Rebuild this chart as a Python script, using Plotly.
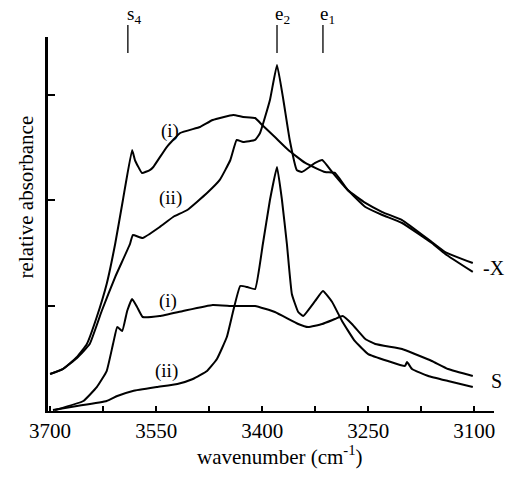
import plotly.graph_objects as go

# Upper pair (-X)
x_top_i = [3700, 3682, 3662, 3648, 3634, 3620, 3608, 3597, 3584, 3580, 3570, 3559, 3554, 3535, 3516,
           3488, 3470, 3441, 3427, 3410, 3400, 3382, 3363, 3339, 3311, 3297, 3279, 3254, 3230, 3202,
           3160, 3141, 3102]
y_top_i = [0.351, 0.398, 0.512, 0.635, 0.891, 1.204, 1.583, 2.000, 2.474, 2.379, 2.256, 2.284, 2.313,
           2.502, 2.635, 2.692, 2.758, 2.806, 2.787, 2.777, 2.711, 2.597, 2.474, 2.351, 2.265, 2.256,
           2.095, 1.972, 1.886, 1.810, 1.602, 1.507, 1.403]

x_top_ii = [3700, 3682, 3662, 3644, 3627, 3608, 3587, 3583, 3569, 3545, 3526, 3506, 3478, 3460, 3445,
            3436, 3427, 3410, 3403, 3389, 3379, 3370, 3361, 3351, 3344, 3325, 3315, 3301, 3283, 3254,
            3230, 3202, 3160, 3141, 3102]
y_top_ii = [0.351, 0.398, 0.502, 0.635, 0.948, 1.270, 1.583, 1.668, 1.640, 1.744, 1.839, 1.905, 2.066,
            2.190, 2.379, 2.569, 2.550, 2.569, 2.635, 2.948, 3.280, 2.948, 2.569, 2.284, 2.265, 2.351,
            2.379, 2.265, 2.123, 1.934, 1.858, 1.782, 1.592, 1.488, 1.318]

# Lower pair (S)
x_bot_i = [3693, 3653, 3634, 3620, 3611, 3605, 3598, 3591, 3584, 3577, 3569, 3545, 3512, 3470, 3441,
           3410, 3382, 3349, 3335, 3315, 3297, 3286, 3273, 3254, 3240, 3202, 3184, 3160, 3137, 3102]
y_bot_i = [0.009, 0.095, 0.227, 0.379, 0.635, 0.796, 0.758, 0.948, 1.062, 0.986, 0.891, 0.900, 0.948,
           1.005, 0.995, 0.995, 0.938, 0.825, 0.796, 0.825, 0.872, 0.900, 0.825, 0.682, 0.635, 0.588,
           0.540, 0.474, 0.398, 0.332]

x_bot_ii = [3696, 3662, 3620, 3605, 3583, 3549, 3520, 3498, 3478, 3464, 3450, 3441, 3431, 3421, 3410,
            3399, 3389, 3379, 3372, 3365, 3358, 3349, 3342, 3325, 3314, 3301, 3287, 3269, 3250, 3222,
            3198, 3195, 3188, 3165, 3137, 3102]
y_bot_ii = [0.009, 0.047, 0.095, 0.142, 0.190, 0.227, 0.256, 0.303, 0.379, 0.493, 0.701, 0.948, 1.185,
            1.175, 1.156, 1.583, 2.000, 2.313, 2.000, 1.583, 1.109, 0.938, 0.900, 1.043, 1.137, 1.033,
            0.853, 0.664, 0.540, 0.474, 0.427, 0.464, 0.398, 0.332, 0.284, 0.227]

x_tickvals = [3700, 3625, 3550, 3475, 3400, 3325, 3250, 3175, 3100]
x_ticktext = ["3700", "", "3550", "", "3400", "", "3250", "", "3100"]
y_tickvals = [1, 2, 3]

band_names = ["s<sub>4</sub>", "e<sub>2</sub>", "e<sub>1</sub>"]
band_pos = [3590, 3379, 3314]
band_label_pos = [3582, 3371, 3308]

curve_labels = ["(i)", "(ii)", "(i)", "(ii)"]
curve_label_x = [3530, 3530, 3533, 3535]
curve_label_y = [2.655, 2.019, 1.043, 0.379]

FONT = "Liberation Serif, Times New Roman, serif"

fig = go.Figure()
for xs, ys in [(x_top_i, y_top_i), (x_top_ii, y_top_ii), (x_bot_i, y_bot_i), (x_bot_ii, y_bot_ii)]:
    fig.add_trace(go.Scatter(x=xs, y=ys, mode="lines",
                             line=dict(color="black", width=2, shape="spline", smoothing=0.35),
                             showlegend=False, hoverinfo="skip"))

for name, xp, xl in zip(band_names, band_pos, band_label_pos):
    fig.add_shape(type="line", xref="x", yref="paper", x0=xp, x1=xp, y0=0.957, y1=1.032,
                  line=dict(color="black", width=1.3))
    fig.add_annotation(text=name, xref="x", yref="paper", x=xl, y=1.058, showarrow=False,
                       font=dict(family=FONT, size=19, color="black"), xanchor="center", yanchor="middle")

for t, xx, yy in zip(curve_labels, curve_label_x, curve_label_y):
    fig.add_annotation(text=t, x=xx, y=yy, showarrow=False,
                       font=dict(family=FONT, size=19, color="black"))

fig.add_annotation(text="-X", xref="paper", yref="y", x=1.0, y=1.355, showarrow=False,
                   xanchor="center", font=dict(family=FONT, size=20, color="black"))
fig.add_annotation(text="S", xref="paper", yref="y", x=1.006, y=0.284, showarrow=False,
                   xanchor="center", font=dict(family=FONT, size=20, color="black"))

fig.add_annotation(text="wavenumber (cm<sup>-1</sup>)", xref="paper", yref="paper", x=0.52, y=-0.160,
                   showarrow=False, font=dict(family=FONT, size=21, color="black"))
fig.add_annotation(text="relative absorbance", xref="paper", yref="paper", x=-0.08, y=0.572,
                   textangle=-90, showarrow=False, font=dict(family=FONT, size=21, color="black"))

fig.update_layout(
    width=511, height=488,
    margin=dict(l=48, r=17, t=37, b=77),
    paper_bgcolor="white", plot_bgcolor="white",
    font=dict(family=FONT, color="black"),
)
fig.update_xaxes(range=[3703, 3072], tickvals=x_tickvals, ticktext=x_ticktext,
                 ticks="inside", ticklen=5, tickwidth=1.5, tickcolor="black",
                 showline=True, linecolor="black", linewidth=2, showgrid=False, zeroline=False,
                 tickfont=dict(family=FONT, size=21, color="black"))
fig.update_yaxes(range=[0, 3.545], tickvals=y_tickvals, showticklabels=False,
                 ticks="inside", ticklen=7, tickwidth=1.5, tickcolor="black",
                 showline=True, linecolor="black", linewidth=3, showgrid=False, zeroline=False)

fig.write_html("out.html")
